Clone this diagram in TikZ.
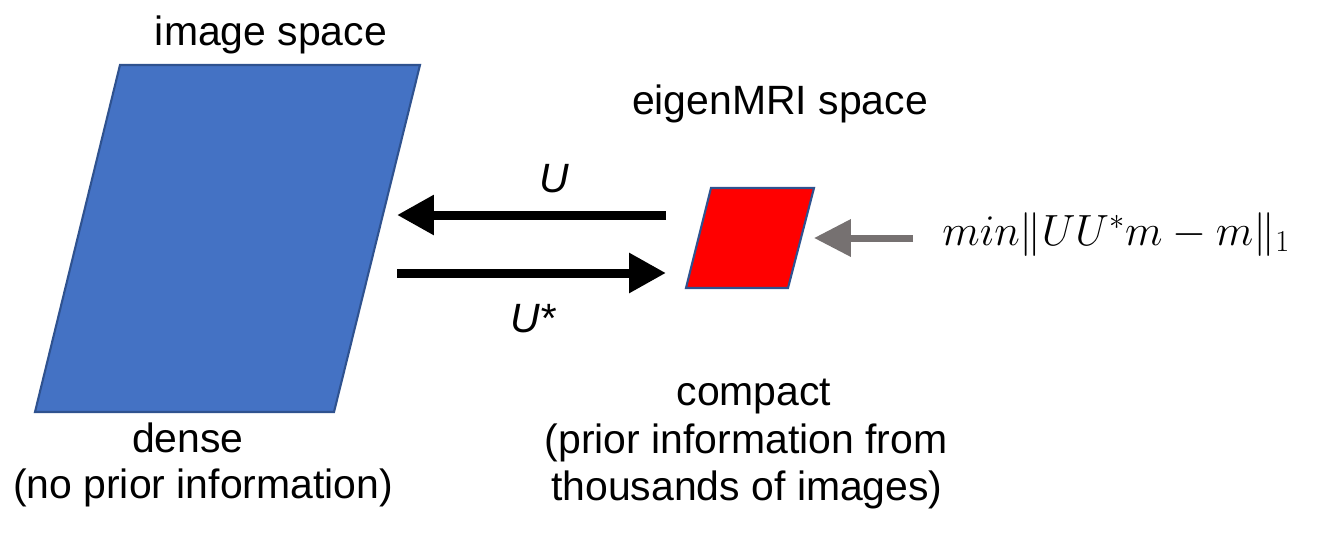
\documentclass[tikz,border=0pt]{standalone}
\usepackage{fontspec}
\setmainfont{Liberation Sans}
\usetikzlibrary{arrows.meta}
\definecolor{pblue}{HTML}{4472C4}
\definecolor{pedge}{HTML}{2F528F}
\definecolor{pgray}{HTML}{767171}
\tikzset{
  lbl/.style={anchor=base, inner sep=0pt, font=\fontsize{23.3}{28}\selectfont},
  space/.style={draw=pedge, line width=1.2pt, line join=miter},
  maparrow/.style={line width=0.18cm, -{Triangle[length=0.74cm,width=0.76cm]}},
  grayarrow/.style={draw=pgray, line width=0.14cm, -{Triangle[length=0.74cm,width=0.72cm]}}
}
\begin{document}
\begin{tikzpicture}[x=0.02cm,y=-0.02cm]
\useasboundingbox (0,0) rectangle (1320,545);
% image space parallelogram
\coordinate (b1) at (120,65);
\coordinate (b2) at (420,65);
\coordinate (b3) at (334,412);
\coordinate (b4) at (35,412);
\draw[space, fill=pblue] (b1) -- (b2) -- (b3) -- (b4) -- cycle;
% eigenMRI parallelogram
\coordinate (r1) at (711,188);
\coordinate (r2) at (814,188);
\coordinate (r3) at (788,288);
\coordinate (r4) at (686,288);
\draw[space, fill=red] (r1) -- (r2) -- (r3) -- (r4) -- cycle;
% arrows
\coordinate (ua) at (666,215);
\coordinate (ub) at (397,215);
\coordinate (sa) at (397,273);
\coordinate (sb) at (666,273);
\draw[maparrow] (ua) -- (ub);
\draw[maparrow] (sa) -- (sb);
\coordinate (ga) at (913,238);
\coordinate (gb) at (814,238);
\draw[grayarrow] (ga) -- (gb);
% labels
\node[lbl] (imgspace) at (271,45) {image space};
\node[lbl] (eigspace) at (780,114) {eigenMRI space};
\node[lbl] (ulbl) at (554,192) {\itshape U};
\node[lbl] (uslbl) at (533,332) {\itshape U*};
\node[lbl] (dense) at (188,452) {dense};
\node[lbl] (noprior) at (203,498) {(no prior information)};
\node[lbl] (compact) at (754,405) {compact};
\node[lbl] (prior1) at (746,453) {(prior information from};
\node[lbl] (prior2) at (747,500) {thousands of images)};
\node[anchor=base west, inner sep=0pt, font=\fontsize{26}{31}\selectfont] (formula) at (942,245) {$min\|UU^*m-m\|_1$};
\end{tikzpicture}
\end{document}
